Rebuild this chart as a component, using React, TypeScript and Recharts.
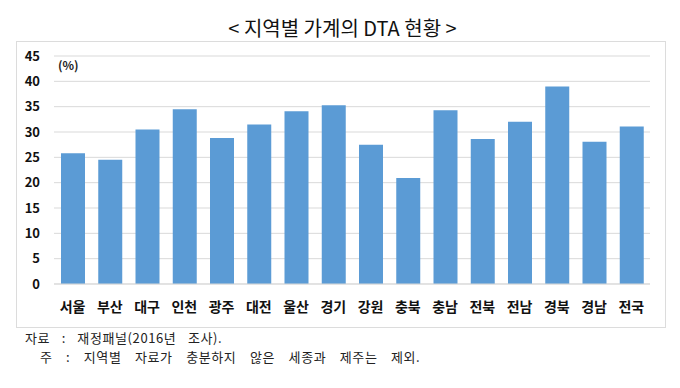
import React from "react";
import { BarChart, Bar, XAxis, YAxis, CartesianGrid } from "recharts";

const regions = ["서울", "부산", "대구", "인천", "광주", "대전", "울산", "경기", "강원", "충북", "충남", "전북", "전남", "경북", "경남", "전국"];
const dtaValues = [25.8, 24.5, 30.5, 34.5, 28.8, 31.5, 34.1, 35.3, 27.5, 20.9, 34.3, 28.6, 32.0, 39.0, 28.1, 31.1];
const yTicks = [0, 5, 10, 15, 20, 25, 30, 35, 40, 45];

const data = regions.map((r, i) => ({ region: r, value: dtaValues[i] }));

const FONT = "'Noto Sans CJK KR', 'Noto Sans', sans-serif";

const footStyle: React.CSSProperties = {
  position: "absolute",
  fontSize: 13,
  lineHeight: "14px",
  letterSpacing: 0.6,
  color: "#222",
  whiteSpace: "pre",
};

export default function App() {
  return (
    <div style={{ position: "absolute", left: 0, top: 0, width: 680, height: 388, background: "#fff", fontFamily: FONT, overflow: "hidden" }}>
      <div style={{ position: "absolute", left: 0, top: 14, width: 685, textAlign: "center", fontSize: 20, letterSpacing: 0, lineHeight: "28px", color: "#111" }}>
        {"< 지역별 가계의 DTA 현황 >"}
      </div>
      <div style={{ position: "absolute", left: 16, top: 41, width: 648, height: 285, border: "1px solid #DCDCDC" }} />
      <div style={{ position: "absolute", left: 0, top: 0 }}>
        <BarChart width={680} height={388} data={data} margin={{ top: 56, right: 30, bottom: 74, left: 10 }}>
          <CartesianGrid horizontal={true} vertical={false} stroke="#D9D9D9" />
          <XAxis
            dataKey="region"
            axisLine={{ stroke: "#D9D9D9" }}
            tickLine={false}
            tickSize={6}
            tickMargin={12}
            interval={0}
            tick={{ fontSize: 14, fontWeight: 700, fill: "#111", fontFamily: FONT }}
          />
          <YAxis
            width={44}
            domain={[0, 45]}
            ticks={yTicks}
            axisLine={false}
            tickLine={false}
            tickSize={6}
            tickMargin={8}
            interval={0}
            tick={{ fontSize: 13, fontWeight: 700, fill: "#111", fontFamily: FONT }}
          />
          <Bar dataKey="value" fill="#5B9BD5" barSize={24} isAnimationActive={false} />
        </BarChart>
      </div>
      <div style={{ position: "absolute", left: 58, top: 56, fontSize: 12, fontWeight: 700, color: "#222" }}>(%)</div>
      <div style={{ ...footStyle, left: 25, top: 331, wordSpacing: 8 }}>{"자료 : 재정패널(2016년 조사)."}</div>
      <div style={{ ...footStyle, left: 40, top: 350, wordSpacing: 10 }}>{"주 : 지역별 자료가 충분하지 않은 세종과 제주는 제외."}</div>
    </div>
  );
}
